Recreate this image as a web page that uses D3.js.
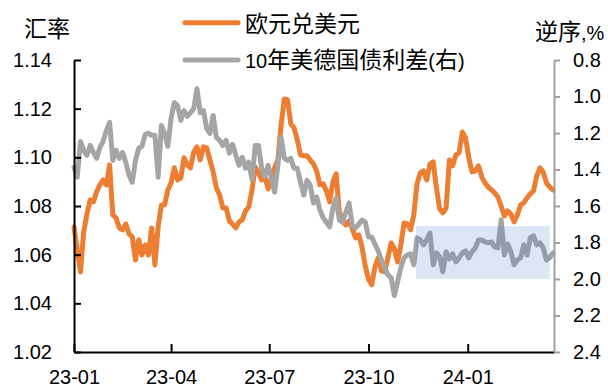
<!DOCTYPE html>
<html>
<head>
<meta charset="utf-8">
<script src="https://cdn.jsdelivr.net/npm/d3@7"></script>
<style>
  html, body { margin: 0; padding: 0; background: #fff; }
  svg { display: block; }
</style>
</head>
<body>
<svg id="chart" width="608" height="388"></svg>
<script>
// ---------- data ----------
const dates = [
  "2023-01-01","2023-01-04","2023-01-07","2023-01-10","2023-01-13","2023-01-16","2023-01-19","2023-01-22","2023-01-25","2023-01-28","2023-01-31",
  "2023-02-03","2023-02-06","2023-02-09","2023-02-12","2023-02-15","2023-02-18","2023-02-21","2023-02-24","2023-02-27",
  "2023-03-02","2023-03-05","2023-03-08","2023-03-11","2023-03-14","2023-03-17","2023-03-20","2023-03-23","2023-03-26","2023-03-29",
  "2023-04-01","2023-04-04","2023-04-07","2023-04-10","2023-04-13","2023-04-16","2023-04-19","2023-04-22","2023-04-25","2023-04-28",
  "2023-05-01","2023-05-04","2023-05-07","2023-05-10","2023-05-13","2023-05-16","2023-05-19","2023-05-22","2023-05-25","2023-05-28","2023-05-31",
  "2023-06-03","2023-06-06","2023-06-09","2023-06-12","2023-06-15","2023-06-18","2023-06-21","2023-06-24","2023-06-27","2023-06-30",
  "2023-07-03","2023-07-06","2023-07-09","2023-07-12","2023-07-15","2023-07-18","2023-07-21","2023-07-24","2023-07-27","2023-07-30",
  "2023-08-02","2023-08-05","2023-08-08","2023-08-11","2023-08-14","2023-08-17","2023-08-20","2023-08-23","2023-08-26","2023-08-29",
  "2023-09-01","2023-09-04","2023-09-07","2023-09-10","2023-09-13","2023-09-16","2023-09-19","2023-09-22","2023-09-25","2023-09-28",
  "2023-10-01","2023-10-04","2023-10-07","2023-10-10","2023-10-13","2023-10-16","2023-10-19","2023-10-22","2023-10-25","2023-10-28","2023-10-31",
  "2023-11-03","2023-11-06","2023-11-09","2023-11-12","2023-11-15","2023-11-18","2023-11-21","2023-11-24","2023-11-27","2023-11-30",
  "2023-12-03","2023-12-06","2023-12-09","2023-12-12","2023-12-15","2023-12-18","2023-12-21","2023-12-24","2023-12-27","2023-12-30",
  "2024-01-02","2024-01-05","2024-01-08","2024-01-11","2024-01-14","2024-01-17","2024-01-20","2024-01-23","2024-01-26","2024-01-29",
  "2024-02-01","2024-02-04","2024-02-07","2024-02-10","2024-02-13","2024-02-16","2024-02-19","2024-02-22","2024-02-25","2024-02-28",
  "2024-03-02","2024-03-05","2024-03-08","2024-03-11","2024-03-14","2024-03-17","2024-03-20"
];

const eurusd = [
  1.0714,1.0619,1.0529,1.0693,1.0767,1.0825,1.0817,1.0858,1.0887,1.0907,1.0887,
  1.0969,1.0763,1.0751,1.0710,1.0702,1.0726,1.0685,1.0673,1.0578,
  1.0661,1.0599,1.0640,1.0599,1.0710,1.0558,1.0714,1.0804,1.0804,1.0866,
  1.0895,1.0957,1.0907,1.0915,1.0998,1.0969,1.0957,1.1022,1.1043,1.0989,
  1.1043,1.1039,1.0989,1.0940,1.0874,1.0846,1.0792,1.0792,1.0739,1.0726,1.0710,
  1.0735,1.0743,1.0780,1.0796,1.0866,1.0961,1.0936,1.0907,1.0920,1.0870,
  1.0915,1.0957,1.0989,1.1133,1.1240,1.1236,1.1137,1.1121,1.1072,1.1010,
  1.1006,1.1006,1.0989,1.0973,1.0944,1.0887,1.0891,1.0862,1.0817,1.0899,
  1.0932,1.0776,1.0735,1.0722,1.0739,1.0706,1.0669,1.0681,1.0632,1.0554,
  1.0500,1.0476,1.0550,1.0587,1.0533,1.0529,1.0587,1.0648,1.0624,1.0570,1.0640,
  1.0730,1.0726,1.0702,1.0763,1.0891,1.0936,1.0944,1.0907,1.0973,1.0981,
  1.0874,1.0788,1.0772,1.0792,1.0989,1.0965,1.1010,1.1018,1.1104,1.1080,
  1.0998,1.0940,1.0944,1.0965,1.0920,1.0895,1.0878,1.0866,1.0854,1.0837,
  1.0800,1.0759,1.0780,1.0767,1.0735,1.0763,1.0804,1.0813,1.0833,1.0850,
  1.0862,1.0924,1.0957,1.0940,1.0895,1.0878,1.0866
];

const spread = [
  1.388,1.442,1.246,1.295,1.322,1.268,1.306,1.339,1.279,1.246,1.186,
  1.142,1.350,1.295,1.339,1.306,1.360,1.431,1.470,1.350,
  1.284,1.273,1.208,1.202,1.213,1.213,1.442,1.159,1.202,1.273,
  1.120,1.033,1.049,1.131,1.077,1.109,1.088,1.066,0.957,1.088,
  1.077,1.175,1.202,1.104,1.224,1.240,1.268,1.240,1.311,1.262,1.322,
  1.377,1.333,1.393,1.360,1.453,1.268,1.268,1.393,1.437,1.377,
  1.448,1.524,1.377,1.224,1.339,1.350,1.339,1.393,1.393,1.470,
  1.540,1.459,1.486,1.584,1.551,1.622,1.666,1.688,1.715,1.611,
  1.557,1.677,1.688,1.633,1.584,1.710,1.720,1.699,1.677,1.688,
  1.770,1.770,1.808,1.846,1.895,1.939,1.977,1.993,2.091,2.015,1.939,
  1.884,1.868,1.862,1.922,1.775,1.786,1.813,1.786,1.748,1.922,
  1.857,1.879,1.961,1.851,1.890,1.862,1.906,1.884,1.857,1.846,
  1.884,1.851,1.830,1.786,1.786,1.797,1.802,1.797,1.824,1.830,
  1.677,1.868,1.808,1.851,1.922,1.895,1.884,1.813,1.868,1.775,
  1.764,1.813,1.802,1.830,1.895,1.884,1.857
];

const seriesNames = ["欧元兑美元", "10年美德国债利差(右)"];
const leftTicks = [1.02, 1.04, 1.06, 1.08, 1.10, 1.12, 1.14];
const rightTicks = [0.8, 1.0, 1.2, 1.4, 1.6, 1.8, 2.0, 2.2, 2.4];
const xTickDates = ["2023-01-01", "2023-04-01", "2023-07-01", "2023-10-01", "2024-01-01"];
const xTickLabels = ["23-01", "23-04", "23-07", "23-10", "24-01"];
const xDomain = ["2023-01-01", "2024-03-21"];
const leftDomain = [1.02, 1.14];
const rightDomain = [0.8, 2.4];
const highlightDates = ["2023-11-14", "2024-03-17"];
const highlightRange = [1.71, 2.0];
const leftTitle = "汇率";
const rightTitle = "逆序,%";

// ---------- drawing ----------
const parse = d3.timeParse("%Y-%m-%d");
const ORANGE = "#ed7d31", GRAY = "#a5a5a5";
const LATIN = '"Liberation Sans", Arial, sans-serif';
const CJK = '"Noto Sans CJK SC", sans-serif';

const svg = d3.select("#chart");
const plot = { left: 74, right: 554, top: 60, bottom: 352 };

const x = d3.scaleTime().domain(xDomain.map(parse)).range([plot.left, plot.right]);
const yL = d3.scaleLinear().domain(leftDomain).range([plot.bottom, plot.top]);
const yR = d3.scaleLinear().domain(rightDomain).range([plot.top, plot.bottom]);

const rows = dates.map((d, i) => ({ date: parse(d), eur: eurusd[i], spr: spread[i] }));

function mixed(textSel, str) {
  const parts = str.match(/[\u4e00-\u9fff]+|[^\u4e00-\u9fff]+/g);
  parts.forEach(p => {
    const isC = /[\u4e00-\u9fff]/.test(p);
    textSel.append("tspan").text(p)
      .attr("font-family", isC ? CJK : LATIN)
      .attr("font-size", isC ? 23 : 20);
  });
  return textSel;
}

svg.append("rect").attr("width", 608).attr("height", 388).attr("fill", "#fff");

// lines
svg.append("path").datum(rows)
  .attr("fill", "none").attr("stroke", ORANGE).attr("stroke-width", 5)
  .attr("stroke-linejoin", "round").attr("stroke-linecap", "round")
  .attr("d", d3.line().x(d => x(d.date)).y(d => yL(d.eur)));

svg.append("path").datum(rows)
  .attr("fill", "none").attr("stroke", GRAY).attr("stroke-width", 5)
  .attr("stroke-linejoin", "round").attr("stroke-linecap", "round")
  .attr("d", d3.line().x(d => x(d.date)).y(d => yR(d.spr)));

// highlight box
const hx0 = x(parse(highlightDates[0])), hx1 = x(parse(highlightDates[1]));
const hy0 = yR(highlightRange[0]), hy1 = yR(highlightRange[1]);
svg.append("rect")
  .attr("x", hx0).attr("y", hy0)
  .attr("width", hx1 - hx0).attr("height", hy1 - hy0)
  .attr("fill", "#4472c4").attr("fill-opacity", 0.18);

// axes
const fmtL = d3.format(".2f"), fmtR = d3.format(".1f");

const gL = svg.append("g").attr("transform", `translate(${plot.left},0)`)
  .call(d3.axisLeft(yL).tickValues(leftTicks).tickFormat(fmtL)
    .tickSize(-7).tickSizeOuter(0).tickPadding(22));
gL.selectAll("path,line").attr("stroke", "#000").attr("stroke-width", 2);
gL.selectAll("text").attr("font-family", LATIN).attr("font-size", 20).attr("fill", "#000");

const gB = svg.append("g").attr("transform", `translate(0,${plot.bottom})`)
  .call(d3.axisBottom(x).tickValues(xTickDates.map(parse))
    .tickFormat((d, i) => xTickLabels[i])
    .tickSize(-8).tickSizeOuter(0).tickPadding(18));
gB.selectAll("path,line").attr("stroke", "#000").attr("stroke-width", 2);
gB.selectAll("text").attr("font-family", LATIN).attr("font-size", 20).attr("fill", "#000");

const gR = svg.append("g").attr("transform", `translate(${plot.right},0)`)
  .call(d3.axisRight(yR).tickValues(rightTicks).tickFormat(fmtR)
    .tickSize(6).tickSizeOuter(0).tickPadding(13));
gR.selectAll("path,line").attr("stroke", "#a0a0a0").attr("stroke-width", 2);
gR.selectAll("text").attr("font-family", LATIN).attr("font-size", 20).attr("fill", "#000");

// axis titles
mixed(svg.append("text").attr("x", 24).attr("y", 37).attr("fill", "#000"), leftTitle);
mixed(svg.append("text").attr("x", 535).attr("y", 40).attr("fill", "#000"), rightTitle);

// legend
const legend = [
  { name: seriesNames[0], color: ORANGE, y: 22.7, ty: 31.5 },
  { name: seriesNames[1], color: GRAY, y: 60, ty: 68 }
];
legend.forEach(l => {
  svg.append("line").attr("x1", 185).attr("x2", 238).attr("y1", l.y).attr("y2", l.y)
    .attr("stroke", l.color).attr("stroke-width", 5).attr("stroke-linecap", "round");
  mixed(svg.append("text").attr("x", 245).attr("y", l.ty).attr("fill", "#000"), l.name);
});
</script>
</body>
</html>
